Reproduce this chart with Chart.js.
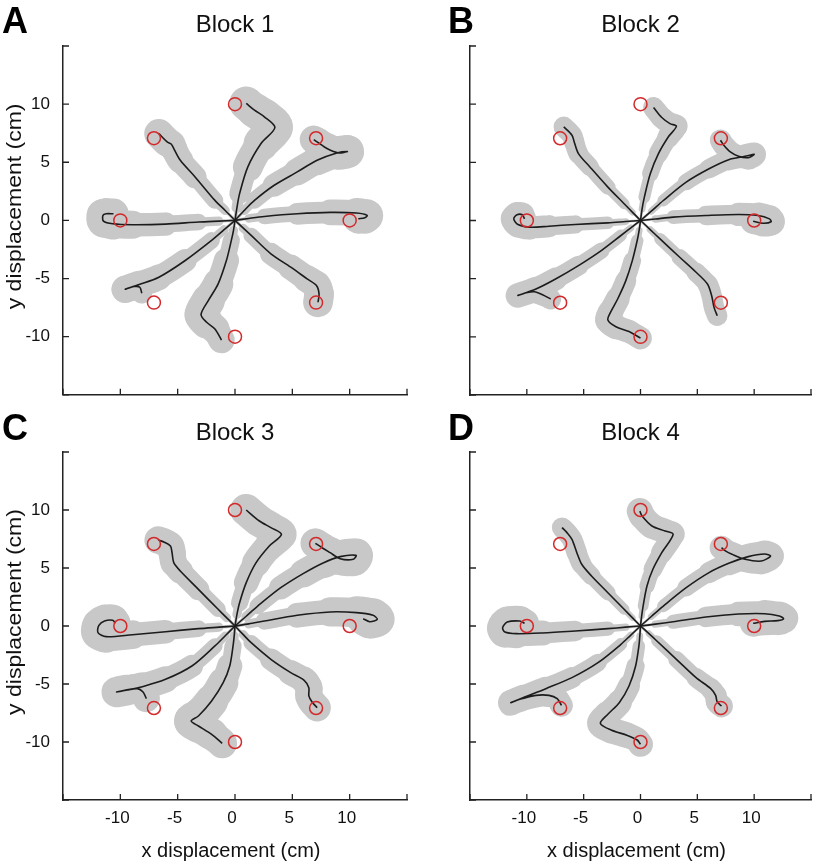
<!DOCTYPE html>
<html>
<head>
<meta charset="utf-8">
<title>Reach trajectories by block</title>
<script src="https://cdn.jsdelivr.net/npm/chart.js@4.4.1/dist/chart.umd.min.js"></script>
<style>
  body { margin: 0; background: #fff; }
  #wrap { position: relative; width: 819px; height: 868px; }
  canvas { position: absolute; }
</style>
</head>
<body>
<div id="wrap">
  <canvas id="chartA" width="415" height="418" style="left:0px;top:0px"></canvas>
  <canvas id="chartB" width="409" height="418" style="left:410px;top:0px"></canvas>
  <canvas id="chartC" width="415" height="458" style="left:0px;top:410px"></canvas>
  <canvas id="chartD" width="409" height="458" style="left:410px;top:410px"></canvas>
</div>
<script>
// targets (cm), 8 directions at 10 cm
const targetX = [10, 7.07, 0, -7.07, -10, -7.07, 0, 7.07];
const targetY = [0, 7.07, 10, 7.07, 0, -7.07, -10, -7.07];

const tickValues = [-15, -10, -5, 0, 5, 10, 15];
const tickLabels = [null, '-10', '-5', '0', '5', '10', null];

const xTitle = 'x displacement (cm)';
const yTitle = 'y displacement (cm)';

// mean trajectories (cm), one row per target: R, UR, U, UL, L, LL, D, LR
// and the spread (sd, cm) drawn as the grey band
const block1X = [
  [0, 1.2, 2.56, 5.43, 8.30, 10.60, 11.52, 11.32, 10.75],
  [0, 0.8, 1.70, 3.42, 5.43, 7.16, 8.88, 9.80, 9.02, 8.02, 7.16, 6.87],
  [0, 0.17, 0.40, 1.12, 2.27, 3.48, 2.56, 1.70, 0.98],
  [0, -0.85, -1.75, -3.48, -4.77, -5.34, -5.55, -5.92, -6.64],
  [0, -1.4, -3.19, -6.06, -8.94, -10.66, -11.47, -11.52, -11.24, -10.60],
  [0, -0.95, -2.04, -4.34, -6.64, -8.36, -9.57, -8.79, -8.30, -8.13],
  [0, -0.13, -0.32, -0.75, -1.47, -2.33, -2.96, -2.47, -1.75, -1.18],
  [0, 0.7, 1.41, 3.13, 4.86, 6.29, 7.10, 7.33, 7.24]
];
const block1Y = [
  [0, 0.17, 0.34, 0.57, 0.69, 0.63, 0.43, 0.23, 0.14],
  [0, 0.85, 1.72, 3.02, 4.17, 5.17, 5.80, 5.92, 5.80, 6.18, 6.75, 6.95],
  [0, 1.1, 2.30, 4.60, 6.61, 7.99, 8.91, 9.48, 10.06],
  [0, 0.85, 1.72, 3.74, 5.17, 6.18, 6.55, 6.75, 7.47],
  [0, -0.06, -0.14, -0.32, -0.37, -0.29, -0.06, 0.43, 0.57, 0.57],
  [0, -0.8, -1.72, -3.45, -4.89, -5.52, -5.92, -5.69, -5.75, -6.26],
  [0, -0.85, -1.72, -3.45, -5.46, -6.90, -8.10, -8.76, -9.34, -10.29],
  [0, -0.65, -1.29, -2.87, -4.02, -5.03, -5.60, -6.32, -7.04]
];
const block1SD = [
  [0.03, 0.25, 0.5, 0.85, 1.05, 1.2, 1.45, 1.35, 1.25],
  [0.03, 0.25, 0.55, 0.9, 1.1, 1.25, 1.35, 1.5, 1.4, 1.3, 1.25, 1.2],
  [0.03, 0.3, 0.65, 1.15, 1.45, 1.6, 1.55, 1.5, 1.45],
  [0.03, 0.25, 0.55, 0.9, 1.1, 1.15, 1.2, 1.25, 1.3],
  [0.03, 0.25, 0.55, 0.9, 1.15, 1.3, 1.45, 1.4, 1.35, 1.3],
  [0.03, 0.25, 0.55, 0.9, 1.1, 1.15, 1.25, 1.1, 1.0, 0.8],
  [0.03, 0.25, 0.55, 0.95, 1.25, 1.4, 1.5, 1.35, 1.2, 1.1],
  [0.03, 0.25, 0.5, 0.85, 1.05, 1.15, 1.25, 1.3, 1.3]
];

const block2X = [
  [0, 1.3, 2.87, 5.75, 8.62, 10.34, 11.35, 11.49, 10.78, 9.91],
  [0, 0.95, 2.01, 4.02, 6.03, 7.76, 9.20, 10.0, 9.48, 8.62, 7.90, 7.33, 7.04],
  [0, 0.14, 0.34, 0.86, 1.58, 2.44, 3.16, 2.59, 1.87, 1.15],
  [0, -0.7, -1.44, -2.87, -4.45, -5.46, -5.83, -6.03, -6.75],
  [0, -1.3, -2.87, -5.75, -8.05, -9.77, -10.78, -11.15, -10.86, -10.40, -10.20],
  [0, -0.85, -1.72, -3.45, -5.46, -7.47, -9.20, -10.78, -10.06, -9.34, -8.62, -7.90],
  [0, -0.12, -0.29, -0.72, -1.29, -2.01, -2.64, -2.87, -2.16, -1.01, 0],
  [0, 0.85, 1.72, 3.45, 4.89, 5.89, 6.26, 6.47, 6.75]
];
const block2Y = [
  [0, 0.13, 0.29, 0.43, 0.52, 0.43, 0.14, -0.11, -0.23, -0.06],
  [0, 0.8, 1.72, 3.30, 4.45, 5.23, 5.52, 5.69, 5.40, 5.52, 5.89, 6.47, 6.90],
  [0, 1.0, 2.01, 4.02, 5.75, 7.18, 8.10, 8.33, 8.85, 9.71],
  [0, 0.7, 1.44, 2.87, 4.60, 5.75, 6.75, 7.33, 8.05],
  [0, -0.09, -0.20, -0.34, -0.49, -0.57, -0.34, 0.14, 0.49, 0.49, 0.14],
  [0, -0.64, -1.29, -2.59, -3.88, -5.03, -5.89, -6.44, -6.21, -6.12, -6.38, -6.75],
  [0, -0.85, -1.72, -3.45, -5.17, -6.75, -7.90, -8.56, -9.14, -9.54, -10.11],
  [0, -0.78, -1.58, -3.16, -4.45, -5.46, -6.47, -7.47, -8.19]
];
const block2SD = [
  [0.03, 0.2, 0.45, 0.75, 0.95, 1.1, 1.2, 1.2, 1.15, 1.1],
  [0.03, 0.2, 0.4, 0.65, 0.8, 0.9, 1.0, 1.1, 1.0, 0.95, 0.95, 0.95, 0.95],
  [0.03, 0.2, 0.4, 0.65, 0.8, 0.9, 1.0, 0.95, 0.95, 0.9],
  [0.03, 0.2, 0.35, 0.6, 0.75, 0.85, 0.9, 0.9, 0.9],
  [0.03, 0.2, 0.4, 0.7, 0.9, 1.05, 1.15, 1.15, 1.1, 1.05, 1.0],
  [0.03, 0.2, 0.4, 0.65, 0.8, 0.95, 1.05, 1.1, 1.05, 1.0, 0.95, 0.9],
  [0.03, 0.2, 0.4, 0.7, 0.85, 1.0, 1.1, 1.15, 1.05, 1.0, 1.0],
  [0.03, 0.2, 0.4, 0.65, 0.8, 0.9, 0.9, 0.9, 0.9]
];

const block3X = [
  [0, 1.2, 2.56, 5.43, 8.30, 10.60, 12.04, 12.41, 11.75, 11.18],
  [0, 0.95, 1.98, 3.99, 5.98, 7.73, 9.17, 10.55, 10.32, 9.17, 8.30, 7.59, 7.01],
  [0, 0.17, 0.40, 0.98, 1.84, 2.99, 4.05, 3.13, 2.13, 0.98],
  [0, -0.72, -1.47, -3.19, -4.77, -5.34, -5.49, -5.63, -6.21, -6.70],
  [0, -1.4, -3.19, -6.06, -8.94, -11.24, -11.95, -11.87, -11.38, -10.66, -10.43],
  [0, -0.85, -1.75, -3.76, -6.06, -8.07, -9.37, -10.32, -9.51, -8.51, -8.02, -7.73],
  [0, -0.07, -0.17, -0.46, -1.03, -2.04, -3.19, -3.82, -3.19, -2.04, -1.12],
  [0, 0.7, 1.41, 3.13, 4.86, 6.01, 6.44, 6.44, 6.72, 7.16]
];
const block3Y = [
  [0, 0.18, 0.43, 0.92, 1.21, 1.15, 0.92, 0.57, 0.37, 0.63],
  [0, 0.82, 1.72, 3.30, 4.54, 5.46, 5.98, 6.09, 5.75, 5.80, 6.32, 6.75, 7.13],
  [0, 1.0, 2.01, 3.74, 5.46, 6.90, 7.90, 8.48, 9.05, 10.0],
  [0, 0.7, 1.44, 3.16, 4.74, 5.46, 6.32, 6.90, 7.24, 7.41],
  [0, -0.1, -0.23, -0.49, -0.75, -0.92, -0.57, 0.06, 0.43, 0.49, 0.23],
  [0, -0.84, -1.72, -3.45, -4.60, -5.23, -5.52, -5.69, -5.52, -5.40, -5.69, -6.26],
  [0, -0.85, -1.72, -3.45, -4.89, -6.47, -7.76, -8.19, -8.62, -9.34, -10.11],
  [0, -0.72, -1.44, -2.87, -4.02, -4.66, -5.32, -6.03, -6.55, -7.04]
];
const block3SD = [
  [0.03, 0.25, 0.55, 0.95, 1.2, 1.35, 1.5, 1.5, 1.45, 1.4],
  [0.03, 0.25, 0.55, 0.9, 1.15, 1.3, 1.4, 1.5, 1.45, 1.4, 1.35, 1.3, 1.3],
  [0.03, 0.25, 0.55, 0.95, 1.2, 1.25, 1.3, 1.35, 1.4, 1.4],
  [0.03, 0.25, 0.5, 0.85, 1.05, 1.15, 1.2, 1.2, 1.2, 1.2],
  [0.03, 0.25, 0.55, 0.9, 1.15, 1.35, 1.45, 1.45, 1.4, 1.35, 1.3],
  [0.03, 0.25, 0.5, 0.85, 1.1, 1.2, 1.3, 1.35, 1.3, 1.25, 1.2, 1.15],
  [0.03, 0.25, 0.55, 0.95, 1.25, 1.4, 1.5, 1.5, 1.45, 1.35, 1.25],
  [0.03, 0.25, 0.5, 0.85, 1.05, 1.15, 1.2, 1.2, 1.2, 1.2]
];

const block4X = [
  [0, 1.3, 2.87, 5.75, 8.62, 10.92, 12.21, 12.59, 12.07, 10.92, 9.91],
  [0, 0.95, 2.01, 4.02, 6.03, 7.76, 9.48, 10.92, 11.44, 10.63, 9.20, 8.05, 7.47, 7.13],
  [0, 0.1, 0.23, 0.57, 1.09, 1.87, 2.87, 2.16, 1.01, 0.14, -0.06],
  [0, -0.7, -1.44, -2.87, -4.31, -5.17, -5.60, -6.03, -6.47, -6.90],
  [0, -1.3, -2.87, -5.75, -8.62, -10.92, -11.93, -12.13, -11.72, -10.63, -10.20],
  [0, -0.85, -1.72, -3.74, -6.03, -8.33, -10.34, -11.41, -10.63, -9.20, -8.05, -7.33, -6.95],
  [0, -0.06, -0.14, -0.43, -1.01, -1.87, -2.87, -3.53, -2.59, -1.15, -0.29, 0.0],
  [0, 0.72, 1.44, 3.16, 4.89, 6.18, 6.61, 6.75, 7.13]
];
const block4Y = [
  [0, 0.16, 0.37, 0.78, 1.03, 1.06, 0.86, 0.63, 0.46, 0.40, 0.23],
  [0, 0.82, 1.72, 3.30, 4.60, 5.40, 5.98, 6.21, 6.03, 5.60, 5.75, 6.18, 6.47, 6.75],
  [0, 0.85, 1.72, 3.45, 4.89, 6.32, 7.90, 8.19, 8.62, 9.48, 9.91],
  [0, 0.7, 1.44, 2.87, 4.31, 5.32, 6.32, 7.47, 8.05, 8.48],
  [0, -0.1, -0.23, -0.43, -0.60, -0.66, -0.52, -0.14, 0.34, 0.43, 0.23],
  [0, -0.78, -1.58, -3.16, -4.45, -5.40, -6.18, -6.61, -6.32, -5.98, -5.98, -6.26, -6.84],
  [0, -0.85, -1.72, -3.45, -5.17, -6.61, -7.61, -8.39, -8.97, -9.43, -9.83, -10.20],
  [0, -0.64, -1.29, -2.87, -4.45, -5.40, -5.98, -6.55, -6.90]
];
const block4SD = [
  [0.03, 0.2, 0.45, 0.8, 1.0, 1.15, 1.25, 1.3, 1.25, 1.2, 1.15],
  [0.03, 0.2, 0.4, 0.7, 0.85, 1.0, 1.1, 1.15, 1.2, 1.15, 1.1, 1.05, 1.05, 1.05],
  [0.03, 0.2, 0.35, 0.6, 0.75, 0.9, 1.0, 1.05, 1.1, 1.15, 1.15],
  [0.03, 0.2, 0.35, 0.6, 0.75, 0.85, 0.9, 0.9, 0.9, 0.9],
  [0.03, 0.2, 0.45, 0.8, 1.0, 1.2, 1.35, 1.4, 1.35, 1.3, 1.25],
  [0.03, 0.2, 0.4, 0.7, 0.85, 1.0, 1.1, 1.15, 1.1, 1.05, 1.0, 1.0, 1.0],
  [0.03, 0.2, 0.4, 0.7, 0.9, 1.05, 1.15, 1.2, 1.15, 1.1, 1.1, 1.1],
  [0.03, 0.2, 0.35, 0.65, 0.8, 0.9, 0.95, 1.0, 1.0]
];

Chart.defaults.font.family = '"Liberation Sans", Arial, Helvetica, sans-serif';
Chart.defaults.color = '#111';

const FONT = '"Liberation Sans", Arial, Helvetica, sans-serif';
const tickLen = 6;

function cmToPx(chart) {
  const x = chart.scales.x;
  return Math.abs(x.getPixelForValue(1) - x.getPixelForValue(0));
}

function tickText(v) {
  const i = tickValues.indexOf(v);
  return i >= 0 ? tickLabels[i] : null;
}

// inward tick marks, panel letter and axis titles
const panelDecor = {
  id: 'panelDecor',
  afterDraw(chart, args, o) {
    const {ctx, chartArea: a, scales: {x, y}} = chart;
    ctx.save();
    ctx.strokeStyle = '#222';
    ctx.lineWidth = 1.3;
    ctx.beginPath();
    tickValues.forEach(v => {
      const px = x.getPixelForValue(v);
      ctx.moveTo(px, a.bottom);
      ctx.lineTo(px, a.bottom - tickLen);
      const py = y.getPixelForValue(v);
      ctx.moveTo(a.left, py);
      ctx.lineTo(a.left + tickLen, py);
    });
    ctx.stroke();

    ctx.fillStyle = '#000';
    ctx.font = 'bold 36px ' + FONT;
    ctx.textAlign = 'left';
    ctx.textBaseline = 'alphabetic';
    ctx.fillText(o.letter, o.letterX, o.letterY);

    ctx.fillStyle = '#111';
    if (o.showY) {
      ctx.save();
      ctx.translate(15, (a.top + a.bottom) / 2 - 14);
      ctx.rotate(-Math.PI / 2);
      ctx.scale(1.15, 1);
      ctx.font = '20px ' + FONT;
      ctx.textAlign = 'center';
      ctx.textBaseline = 'middle';
      ctx.fillText(yTitle, 0, 0);
      ctx.restore();
    }
    if (o.showX) {
      ctx.font = '20px ' + FONT;
      ctx.textAlign = 'center';
      ctx.textBaseline = 'middle';
      ctx.fillText(xTitle, (a.left + a.right) / 2 - 4, a.bottom + 51);
    }
    ctx.restore();
  }
};

function buildDatasets(xs, ys, sds) {
  const targets = {
    data: targetX.map((v, i) => ({x: v, y: targetY[i]})),
    showLine: false,
    pointRadius: 6.5,
    pointBorderWidth: 1.5,
    pointBorderColor: '#d3292b',
    pointBackgroundColor: 'rgba(0,0,0,0)',
    order: 0
  };
  const lines = xs.map((row, k) => ({
    data: row.map((v, i) => ({x: v, y: ys[k][i]})),
    showLine: true,
    borderColor: '#1c1c1c',
    borderWidth: 1.6,
    tension: 0.3,
    pointRadius: 0,
    order: 1
  }));
  const bands = xs.map((row, k) => ({
    data: row.map((v, i) => ({x: v, y: ys[k][i]})),
    showLine: true,
    borderColor: '#c8c8c8',
    borderWidth: 2,
    borderCapStyle: 'round',
    borderJoinStyle: 'round',
    tension: 0.3,
    pointRadius: 0,
    order: 2,
    segment: {
      borderWidth: ctx => (sds[k][ctx.p0DataIndex] + sds[k][ctx.p1DataIndex]) * cmToPx(ctx.chart)
    }
  }));
  return [targets, ...lines, ...bands];
}

function makePanel(id, cfg) {
  new Chart(document.getElementById(id), {
    type: 'scatter',
    data: { datasets: buildDatasets(cfg.xs, cfg.ys, cfg.sds) },
    options: {
      responsive: false,
      animation: false,
      events: [],
      layout: { padding: { left: 0, right: cfg.padRight, top: 0, bottom: 0 } },
      plugins: {
        legend: { display: false },
        tooltip: { enabled: false },
        title: {
          display: true,
          text: cfg.title,
          fullSize: false,
          color: '#111',
          font: { size: 24, weight: 'normal' },
          padding: { top: cfg.titleTop, bottom: cfg.titleBottom }
        },
        panelDecor: {
          letter: cfg.letter,
          letterX: cfg.letterX,
          letterY: cfg.letterY,
          showX: cfg.showX,
          showY: cfg.showY
        }
      },
      scales: {
        x: {
          type: 'linear',
          position: 'bottom',
          min: -15,
          max: 15,
          border: { display: true, color: '#222', width: 1.5 },
          grid: { drawOnChartArea: false, drawTicks: false },
          ticks: {
            display: cfg.showX,
            stepSize: 5,
            autoSkip: false,
            maxRotation: 0,
            padding: 8,
            labelOffset: -3,
            font: { size: 17 },
            color: '#111',
            callback: v => tickText(v)
          },
          afterFit: s => { s.height = cfg.xHeight; }
        },
        y: {
          type: 'linear',
          position: 'left',
          min: -15,
          max: 15,
          border: { display: true, color: '#222', width: 1.5 },
          grid: { drawOnChartArea: false, drawTicks: false },
          ticks: {
            display: cfg.showY,
            stepSize: 5,
            autoSkip: false,
            padding: 13,
            font: { size: 17 },
            color: '#111',
            callback: v => tickText(v)
          },
          afterFit: s => { s.width = cfg.yWidth; }
        }
      }
    },
    plugins: [panelDecor]
  });
}

makePanel('chartA', {
  xs: block1X, ys: block1Y, sds: block1SD, title: 'Block 1',
  letter: 'A', letterX: 2, letterY: 33, showX: false, showY: true,
  padRight: 4, yWidth: 63, xHeight: 23, titleTop: 11.1, titleBottom: 6.1
});
makePanel('chartB', {
  xs: block2X, ys: block2Y, sds: block2SD, title: 'Block 2',
  letter: 'B', letterX: 38, letterY: 33, showX: false, showY: false,
  padRight: 2, yWidth: 60, xHeight: 23, titleTop: 11.1, titleBottom: 6.1
});
makePanel('chartC', {
  xs: block3X, ys: block3Y, sds: block3SD, title: 'Block 3',
  letter: 'C', letterX: 2, letterY: 30, showX: true, showY: true,
  padRight: 4, yWidth: 63, xHeight: 68, titleTop: 9.1, titleBottom: 4.1
});
makePanel('chartD', {
  xs: block4X, ys: block4Y, sds: block4SD, title: 'Block 4',
  letter: 'D', letterX: 38, letterY: 30, showX: true, showY: false,
  padRight: 2, yWidth: 60, xHeight: 68, titleTop: 9.1, titleBottom: 4.1
});
</script>
</body>
</html>
